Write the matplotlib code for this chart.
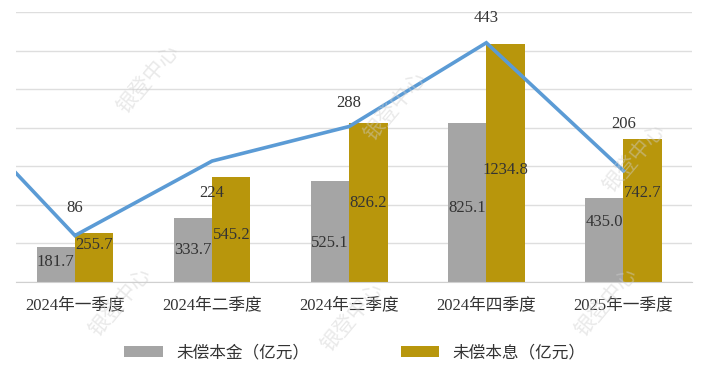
import numpy as np
import matplotlib.pyplot as plt

# data
quarters = ["2024年一季度", "2024年二季度", "2024年三季度", "2024年四季度", "2025年一季度"]
principal = [181.7, 333.7, 525.1, 825.1, 435.0]        # 未偿本金（亿元）
principal_interest = [255.7, 545.2, 826.2, 1234.8, 742.7]  # 未偿本息（亿元）
line_vals = [355, 86, 224, 288, 443, 206]   # first value is the quarter before, cut off at the left edge
line_labels = ["", "86", "224", "288", "443", "206"]

# label placement (layout only)
principal_label_y = [104, 166, 202, 384, 311]
pi_label_y = [192, 244, 410, 581, 461]
line_label_dy = [0, 20, -23, 17, 18, 34]   # points above(+)/below(-) the line point

gray = "#a5a5a5"
gold = "#b8960c"
blue = "#5b9bd5"
num_font = ["Liberation Serif", "Noto Sans CJK SC"]
cjk_font = ["Noto Sans CJK SC", "DejaVu Sans"]

fig = plt.figure(figsize=(7.05, 3.77), dpi=100)
ax = fig.add_axes([16 / 705, 95 / 377, 676 / 705, 270 / 377])

x = np.arange(len(quarters))
w = 0.28
b1 = ax.bar(x - w / 2, principal, w, color=gray, label="未偿本金（亿元）", zorder=2)
b2 = ax.bar(x + w / 2, principal_interest, w, color=gold, label="未偿本息（亿元）", zorder=2)

for i in range(len(quarters)):
    ax.text(x[i] - w / 2, principal_label_y[i], f"{principal[i]:.1f}", ha="center", va="center",
            fontsize=12, family=num_font, color="#333333", zorder=5)
    ax.text(x[i] + w / 2, pi_label_y[i], f"{principal_interest[i]:.1f}", ha="center", va="center",
            fontsize=12, family=num_font, color="#333333", zorder=5)

ax.set_ylim(0, 1400)
ax.set_yticks(np.arange(0, 1401, 200))
ax.yaxis.grid(True, color="#dedede", linewidth=1)
ax.set_axisbelow(True)
ax.set_yticklabels([])
ax.tick_params(axis="both", length=0)
ax.set_xticks(x)
ax.set_xticklabels(quarters, family=num_font, fontsize=12, color="#333333")
ax.tick_params(axis="x", pad=11)
for s in ["top", "right", "left"]:
    ax.spines[s].set_visible(False)
ax.spines["bottom"].set_color("#d0d0d0")
ax.set_xlim(-0.43, 4.5)

# line on secondary axis
ax2 = ax.twinx()
lx = np.arange(-1, len(quarters))
ax2.plot(lx, line_vals, color=blue, linewidth=2.6, zorder=3, solid_joinstyle="miter")
ax2.set_ylim(0, 500)
ax2.set_xlim(-0.43, 4.5)
ax2.axis("off")
for xi, v, lab, dy in zip(lx, line_vals, line_labels, line_label_dy):
    if lab:
        ax2.annotate(lab, (xi, v), xytext=(0, dy), textcoords="offset points", ha="center",
                     va="center", fontsize=12, family=num_font, color="#333333")

# watermark
for wx, wy in [(0.21, 0.79), (0.56, 0.72), (0.90, 0.58), (0.17, 0.20), (0.50, 0.16), (0.86, 0.20)]:
    fig.text(wx, wy, "银登中心", rotation=50, fontsize=15, family=cjk_font, color="#cfcfcf",
             alpha=0.45, ha="center", va="center")

fig.legend(handles=[b1, b2], loc="center", bbox_to_anchor=(355 / 705, 1 - 353 / 377), ncol=2,
           frameon=False, prop={"family": cjk_font, "size": 12}, handlelength=2.3, handleheight=0.6,
           columnspacing=5.5, labelcolor="#333333")

fig.savefig("out.png", dpi=100)
